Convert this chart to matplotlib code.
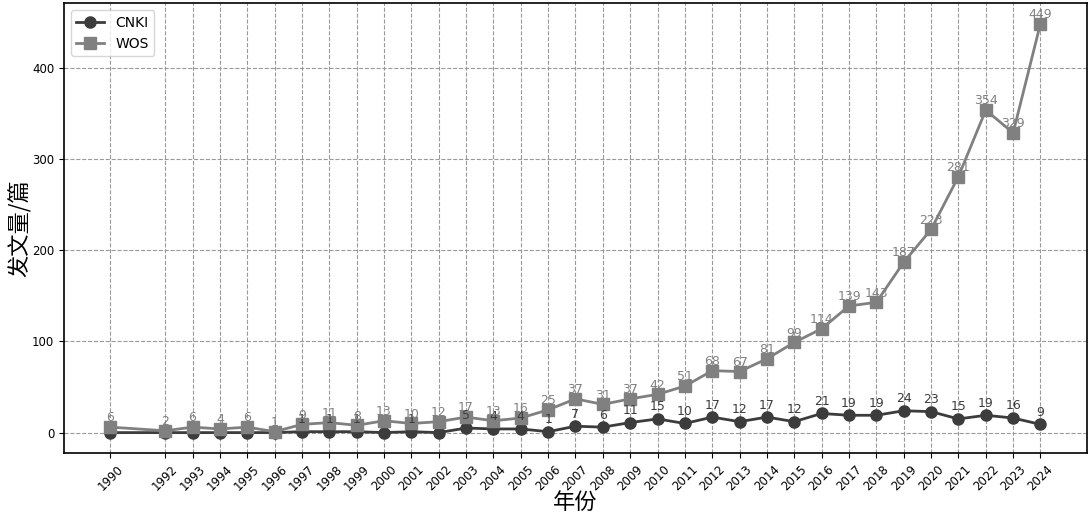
import matplotlib
matplotlib.use("Agg")
import matplotlib.pyplot as plt

years = [1990, 1992, 1993, 1994, 1995, 1996, 1997, 1998, 1999, 2000, 2001, 2002,
         2003, 2004, 2005, 2006, 2007, 2008, 2009, 2010, 2011, 2012, 2013, 2014,
         2015, 2016, 2017, 2018, 2019, 2020, 2021, 2022, 2023, 2024]
cnki = [0, 0, 0, 0, 0, 0, 1, 1, 1, 0, 1, 0,
        5, 4, 4, 1, 7, 6, 11, 15, 10, 17, 12, 17,
        12, 21, 19, 19, 24, 23, 15, 19, 16, 9]
wos = [6, 2, 6, 4, 6, 1, 9, 11, 8, 13, 10, 12,
       17, 13, 16, 25, 37, 31, 37, 42, 51, 68, 67, 81,
       99, 114, 139, 143, 187, 223, 281, 354, 329, 449]

plt.rcParams['font.family'] = ['DejaVu Sans']
cjk = ['Noto Sans CJK SC', 'DejaVu Sans']

fig = plt.figure(figsize=(10.92, 5.16), dpi=100)
ax = fig.add_axes([0.0586, 0.122, 0.9368, 0.872])

c1 = '#3c3c3c'
c2 = '#808080'
ax.plot(years, cnki, marker='o', color=c1, lw=2, ms=8, label='CNKI', zorder=3)
ax.plot(years, wos, marker='s', color=c2, lw=2, ms=8, label='WOS', zorder=3)

for x, y in zip(years, cnki):
    if y != 0:
        ax.annotate(str(y), (x, y), xytext=(0, 4), textcoords='offset points',
                    ha='center', va='bottom', fontsize=9, color=c1, zorder=4)
for x, y in zip(years, wos):
    ax.annotate(str(y), (x, y), xytext=(0, 2), textcoords='offset points',
                ha='center', va='bottom', fontsize=9, color=c2, zorder=4)

ax.set_xticks(years)
ax.set_xticklabels([str(y) for y in years], rotation=45, fontsize=8.5)
ax.tick_params(axis='y', labelsize=8.5)
ax.set_yticks([0, 100, 200, 300, 400])
ax.grid(True, linestyle='--', color='#999999', lw=0.8)
ax.set_xlabel('年份', family=cjk, fontsize=16)
ax.xaxis.set_label_coords(0.5, -0.085)
ax.set_ylabel('发文量/篇', family=cjk, fontsize=16)
ax.yaxis.set_label_coords(-0.031, 0.5)
for s in ax.spines.values():
    s.set_linewidth(1.2)
ax.legend(loc='upper left', fontsize=10)

fig.savefig('out.png', dpi=100)
